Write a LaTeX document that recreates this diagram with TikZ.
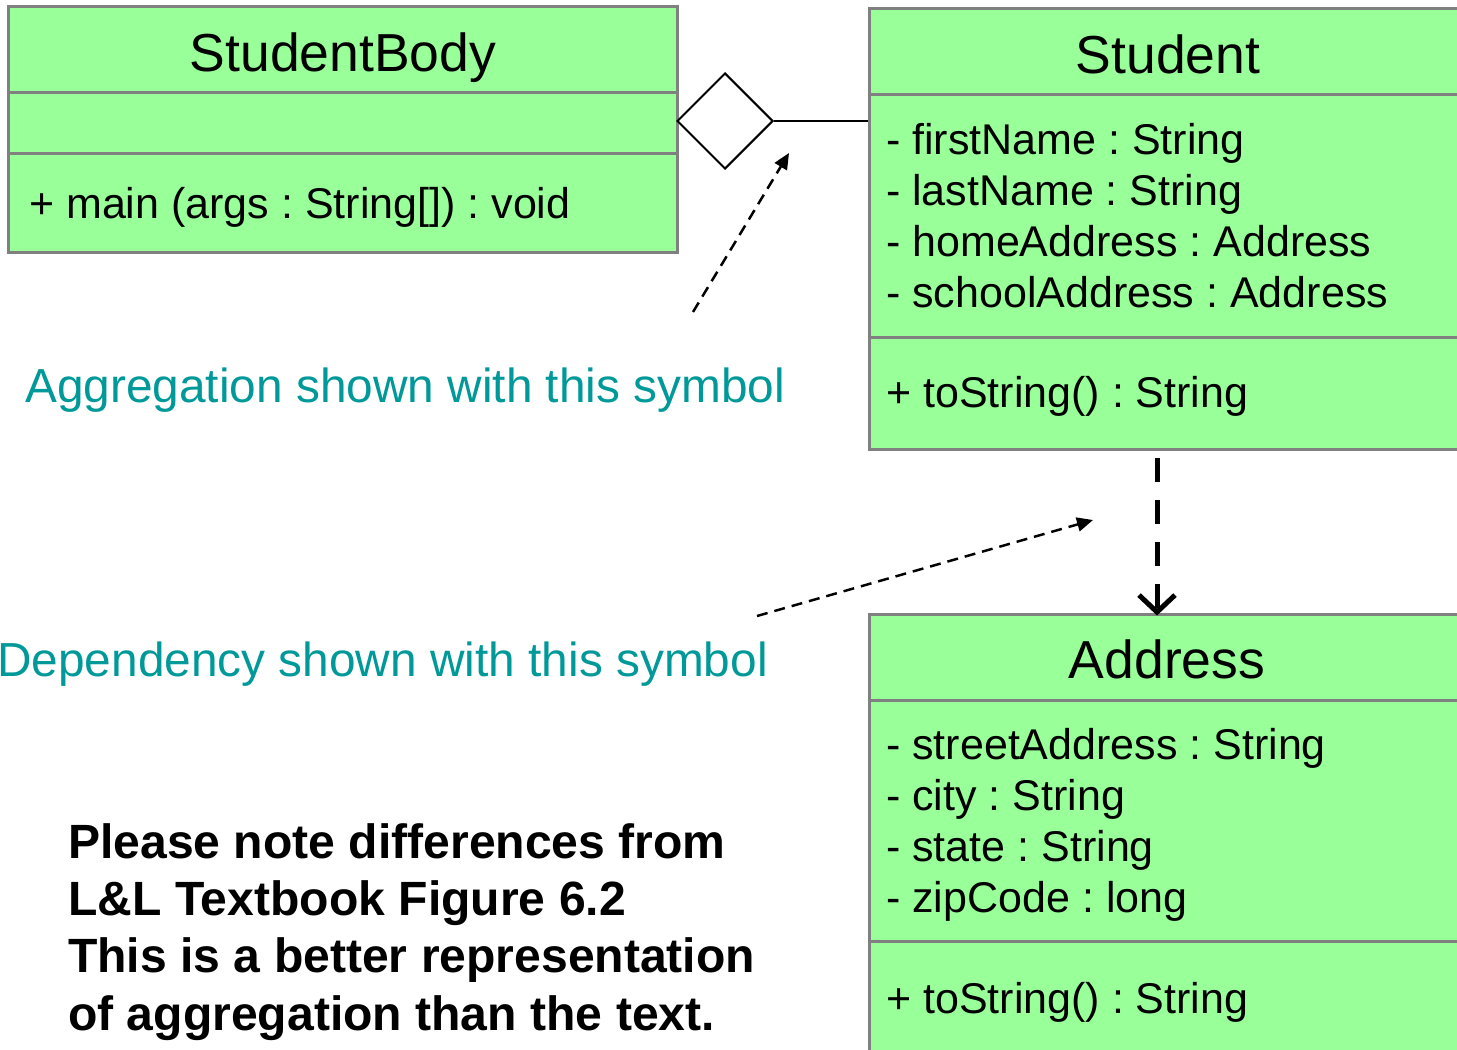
\documentclass[tikz,border=0pt]{standalone}
\usepackage{fontspec}
\setmainfont{Liberation Sans}
\usetikzlibrary{arrows.meta,shapes.geometric}
\definecolor{umlgreen}{HTML}{99FF99}
\definecolor{umlgray}{HTML}{808080}
\definecolor{noteteal}{HTML}{009999}
\frenchspacing
\begin{document}
\begin{tikzpicture}[x=1bp,y=-1bp,
  classbox/.style={draw=umlgray, line width=3bp, fill=umlgreen, inner sep=0pt, rectangle},
  divider/.style={draw=umlgray, line width=3bp},
  titletext/.style={inner sep=0pt, anchor=base, font=\fontsize{53.5bp}{60bp}\selectfont},
  membertext/.style={inner sep=0pt, anchor=base west, font=\fontsize{43bp}{50bp}\selectfont},
  notetext/.style={inner sep=0pt, text=noteteal, font=\fontsize{47.8bp}{55bp}\selectfont},
  boldnote/.style={inner sep=0pt, anchor=base west, font=\bfseries\fontsize{48.1bp}{55bp}\selectfont},
  pointer/.style={line width=2.5bp, dash pattern=on 11bp off 7bp, -{Triangle[length=16bp,width=14bp]}},
  deparrow/.style={line width=5bp, dash pattern=on 24bp off 18bp, -{Straight Barb[length=17bp,width=36bp]}},
  aggdiamond/.style={diamond, draw=black, line width=2bp, fill=white, aspect=1, inner sep=0pt, minimum width=96bp, minimum height=96bp},
]
\fill[white] (0,0) rectangle (1457,1049);
\useasboundingbox (0,0) rectangle (1457,1049);

% class boxes
\node[classbox, minimum width=668bp, minimum height=246bp] (sb) at (343,129) {};
\draw[divider] (sb.west |- 0,92) -- (sb.east |- 0,92);
\draw[divider] (sb.west |- 0,153) -- (sb.east |- 0,153);

\node[classbox, minimum width=598bp, minimum height=440bp] (st) at (1168,229) {};
\draw[divider] (st.west |- 0,94) -- (st.east |- 0,94);
\draw[divider] (st.west |- 0,337) -- (st.east |- 0,337);

\node[classbox, minimum width=598bp, minimum height=446bp] (ad) at (1168,837) {};
\draw[divider] (ad.west |- 0,700) -- (ad.east |- 0,700);
\draw[divider] (ad.west |- 0,941) -- (ad.east |- 0,941);

% titles
\node[titletext] (sbt) at (343,71) {StudentBody};
\node[titletext] (stt) at (1168,73) {Student};
\node[titletext] (adt) at (1167,678) {Address};

% members
\node[membertext] (sbm) at (29,218) {+ main (args : String[]) : void};

\node[membertext] (sta1) at (886,154) {- firstName : String};
\node[membertext] (sta2) at (886,205) {- lastName : String};
\node[membertext] (sta3) at (886,256) {- homeAddress : Address};
\node[membertext] (sta4) at (886,307) {- schoolAddress : Address};
\node[membertext] (stm) at (886,407) {+ toString() : String};

\node[membertext] (ada1) at (886,759) {- streetAddress : String};
\node[membertext] (ada2) at (886,810) {- city : String};
\node[membertext] (ada3) at (886,861) {- state : String};
\node[membertext] (ada4) at (886,912) {- zipCode : long};
\node[membertext] (adm) at (886,1013) {+ toString() : String};

% aggregation
\node[aggdiamond] (agg) at (725,121) {};
\draw[line width=2bp] (agg.east) -- (agg.east -| st.west);

% dependency
\coordinate (depstart) at (1157,458);
\draw[deparrow] (depstart) -- ([yshift=-3bp]depstart |- ad.north);

% explanatory pointers
\coordinate (aggfrom) at (693,312);
\coordinate (aggto) at (789,153);
\draw[pointer] (aggfrom) -- (aggto);
\coordinate (depfrom) at (757,616);
\coordinate (depto) at (1093,520);
\draw[pointer] (depfrom) -- (depto);

% notes
\node[notetext, anchor=base west] (aggnote) at (25,402) {Aggregation shown with this symbol};
\node[notetext, anchor=base east] (depnote) at (768,676) {Dependency shown with this symbol};

\node[boldnote] (n1) at (68,858) {Please note differences from};
\node[boldnote] (n2) at (68,915) {L\&L Textbook Figure 6.2};
\node[boldnote] (n3) at (68,972) {This is a better representation};
\node[boldnote] (n4) at (68,1030) {of aggregation than the text.};
\end{tikzpicture}
\end{document}
